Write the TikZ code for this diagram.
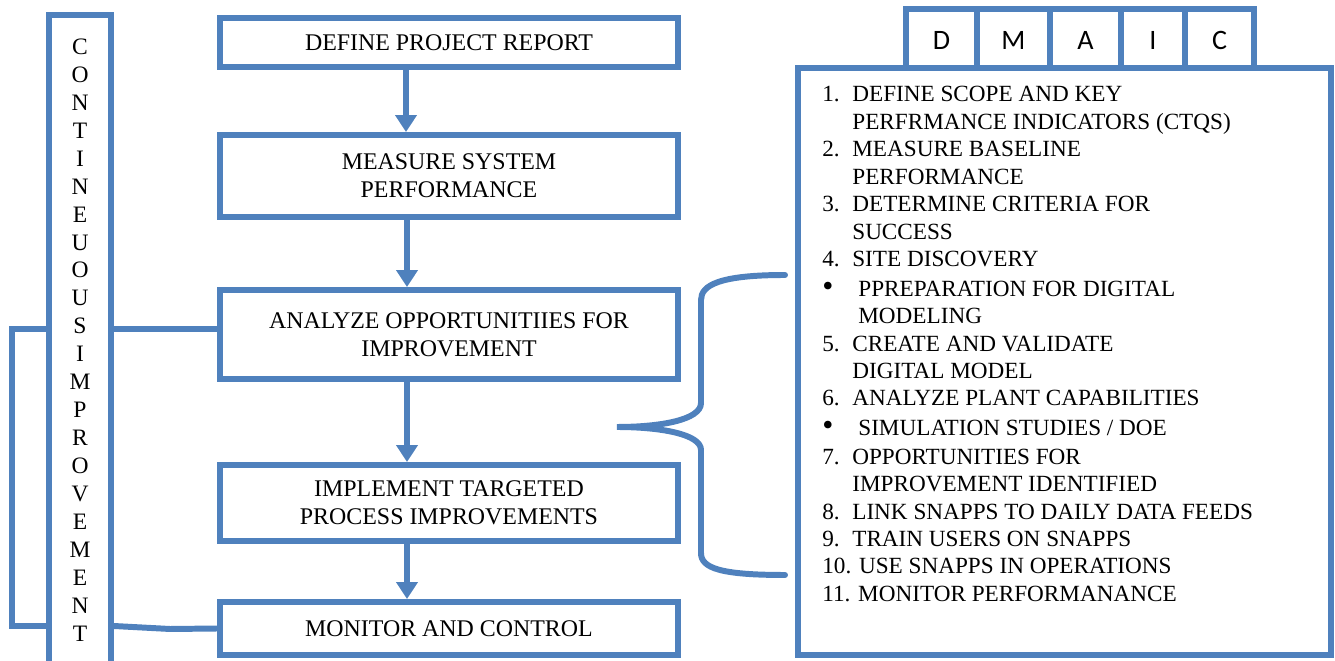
\documentclass[tikz,border=0pt]{standalone}
\usepackage{fontspec}
\setmainfont{Liberation Serif}
\newfontfamily\tabfont{Carlito}
\usetikzlibrary{arrows.meta, positioning}
\definecolor{cblue}{HTML}{4F81BD}
\newcommand{\bigbullet}{{\fontsize{18}{15.6}\selectfont\textbullet}}

\begin{document}
\begin{tikzpicture}[
  x=0.02cm, y=-0.02cm,
  font=\fontsize{13.6}{15.9}\selectfont,
  >={Triangle[length=3.4mm, width=4.2mm]},
  box/.style={draw=cblue, line width=3.4pt, fill=white, align=center,
              minimum width=9.16cm, inner sep=2pt},
  tab/.style={draw=cblue, line width=3.4pt, fill=white, minimum height=1.18cm,
              inner sep=0pt, text height=0.46cm, text depth=0pt,
              font=\tabfont\fontsize{16}{18}\selectfont},
  arr/.style={->, line width=3.6pt, draw=cblue},
  link/.style={line width=3.4pt, draw=cblue},
  ]
\useasboundingbox (0,0) rectangle (1335,661);
% DMAIC process steps
\node[box, minimum height=0.98cm] (define) at (449,42.5) {DEFINE PROJECT REPORT};
\node[box, minimum height=1.64cm] (measure) at (449,176) {MEASURE SYSTEM\\PERFORMANCE};
\node[box, minimum height=1.78cm] (analyze) at (449,334.5) {ANALYZE OPPORTUNITIIES FOR\\IMPROVEMENT};
\node[box, minimum height=1.52cm] (implement) at (449,503) {IMPLEMENT TARGETED\\PROCESS IMPROVEMENTS};
\node[box, minimum height=1.06cm] (monitor) at (449,628.5) {MONITOR AND CONTROL};
\draw[arr] (define.south -| 406,0) -- (measure.north -| 406,0);
\draw[arr] (measure.south -| 407,0) -- (analyze.north -| 407,0);
\draw[arr] (analyze.south -| 407,0) -- (implement.north -| 407,0);
\draw[arr] (implement.south -| 407,0) -- (monitor.north -| 407,0);
% continuous improvement column
\node[box, minimum width=1.24cm, minimum height=13cm, inner sep=0pt,
      font=\fontsize{13.4}{15.9}\selectfont] (cont) at (80,340)
  {C\\O\\N\\T\\I\\N\\E\\U\\O\\U\\S\\I\\M\\P\\R\\O\\V\\E\\M\\E\\N\\T};
\draw[link] (cont.east |- 0,329) -- (analyze.west |- 0,329);
\draw[link] (cont.east |- 0,626) -- (170,629) -- (monitor.west);
\draw[link] (cont.west |- 0,329) -- (12,329) -- (12,626) -- (cont.west |- 0,626);
% DMAIC tabs and task list
\node[tab, minimum width=1.42cm] (tabD) at (941.5,38.5) {D};
\node[tab, minimum width=1.46cm] (tabM) at (1013.5,38.5) {M};
\node[tab, minimum width=1.42cm] (tabA) at (1085.5,38.5) {A};
\node[tab, minimum width=1.28cm] (tabI) at (1153,38.5) {I};
\node[tab, minimum width=1.38cm] (tabC) at (1219.5,38.5) {C};
\node[box, minimum width=10.66cm, minimum height=11.74cm] (dmaic) at (1064.5,361.5) {};
\node[anchor=base west, inner sep=0pt, align=left,
      font=\fontsize{13.2}{15.6}\selectfont] (steps) at (822,102) {%
  \begin{tabular}[t]{@{}p{0.6cm}@{}l@{}}
  1. & DEFINE SCOPE AND KEY\\
     & PERFRMANCE INDICATORS (CTQS)\\
  2. & MEASURE BASELINE\\
     & PERFORMANCE\\
  3. & DETERMINE CRITERIA FOR\\
     & SUCCESS\\
  4. & SITE DISCOVERY\\[1.4pt]
  \bigbullet & \hspace{0.12cm}PPREPARATION FOR DIGITAL\\
     & \hspace{0.12cm}MODELING\\
  5. & CREATE AND VALIDATE\\
     & DIGITAL MODEL\\
  6. & ANALYZE PLANT CAPABILITIES\\[1.4pt]
  \bigbullet & \hspace{0.12cm}SIMULATION STUDIES / DOE\\[0.6pt]
  7. & OPPORTUNITIES FOR\\
     & IMPROVEMENT IDENTIFIED\\
  8. & LINK SNAPPS TO DAILY DATA FEEDS\\
  9. & TRAIN USERS ON SNAPPS\\
  \multicolumn{2}{@{}l@{}}{10. USE SNAPPS IN OPERATIONS}\\
  \multicolumn{2}{@{}l@{}}{11. MONITOR PERFORMANANCE}
  \end{tabular}};
% brace
\draw[link, line cap=round] (785,275) .. controls (720,275) and (701,285) .. (701,300)
  -- (701,403) .. controls (701,420) and (660,427) .. (617,427)
  .. controls (660,427) and (701,434) .. (701,450)
  -- (701,553) .. controls (701,568) and (720,575) .. (785,575);
\end{tikzpicture}
\end{document}
